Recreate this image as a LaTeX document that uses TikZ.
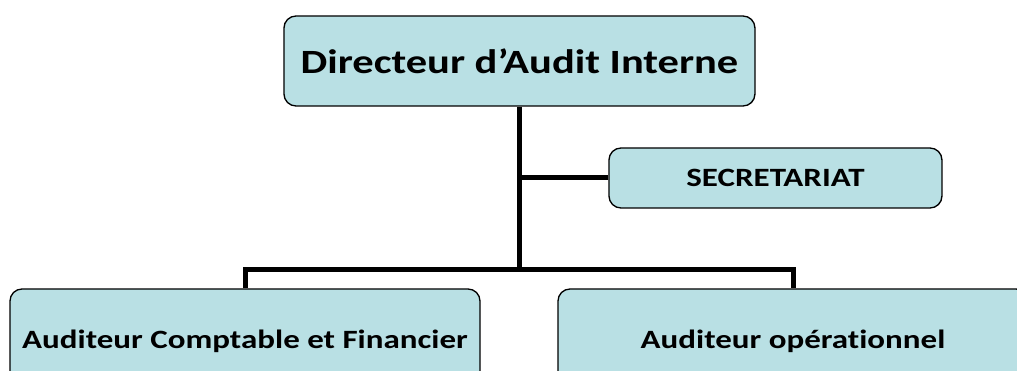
\documentclass[tikz,border=0pt]{standalone}
\usepackage{fontspec}
\setmainfont[FakeStretch=1.25, Ligatures=NoCommon]{Carlito}
\usetikzlibrary{positioning}
\definecolor{boxfill}{RGB}{185,224,228}
\tikzset{
	unit/.style={draw=black, line width=1pt, fill=boxfill, rounded corners=9pt,
		font=\bfseries, align=center, inner sep=0pt},
	link/.style={line width=3.75pt, line cap=butt}
}

\begin{document}
\begin{tikzpicture}[x=1pt, y=1pt]
		\useasboundingbox (0,0) rectangle (762.75,278.25);
		\clip (0,0) rectangle (762.75,278.25);
		
		\node [unit, minimum width=353.25pt, minimum height=67.5pt, font=\bfseries\fontsize{25.5}{30}\selectfont]
		(dir) at (389.6,232.5) {Directeur d’Audit Interne};
		
		\node [unit, minimum width=249.75pt, minimum height=45pt, font=\bfseries\fontsize{19.8}{24}\selectfont]
		(sec) at (581.6,144.75) {SECRETARIAT};
		
		\node [unit, minimum width=352.5pt, minimum height=78pt, font=\bfseries\fontsize{19.8}{24}\selectfont]
		(acf) at (183.75,22.5) {Auditeur Comptable et Financier};
		
		\node [unit, minimum width=352.5pt, minimum height=78pt, font=\bfseries\fontsize{19.8}{24}\selectfont]
		(ope) at (594.75,22.5) {Auditeur opérationnel};
		
		\coordinate (bus) at (dir.south |- 0,75.75);
		
		\draw[link] (dir.south) -- (bus);
		\draw[link] (sec.west) -- (sec.west -| dir.south);
		\draw[link] (acf.north) |- (bus) -| (ope.north);
		\end{tikzpicture}
\end{document}
